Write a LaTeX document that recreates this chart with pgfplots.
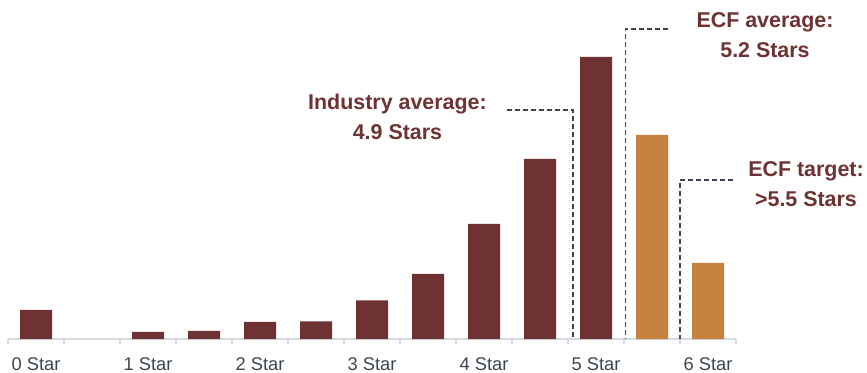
\documentclass[border=0pt]{standalone}
\usepackage{fontspec}
\setmainfont{Liberation Sans}
\usepackage{pgfplots}
\pgfplotsset{compat=1.18}
\definecolor{maroon}{HTML}{6F3232}
\definecolor{ochre}{HTML}{C8823F}
\definecolor{axisgray}{HTML}{D6DBE1}
\definecolor{labelgray}{HTML}{3E4550}
\definecolor{dashgray}{HTML}{3D4653}
\begin{document}
\begin{tikzpicture}
\path[use as bounding box] (-8bp,-34bp) rectangle (859bp,339bp);
\begin{axis}[
  at={(0,0)}, anchor=south west,
  scale only axis, width=728bp, height=339bp,
  xmin=-0.5, xmax=12.5, ymin=0, ymax=339,
  clip=false,
  axis x line=bottom, axis y line=none,
  axis line style={axisgray, line width=1.5bp, -},
  xtick={0,2,4,6,8,10,12},
  xticklabels={0 Star,1 Star,2 Star,3 Star,4 Star,5 Star,6 Star},
  major tick length=0pt,
  minor xtick={-0.5,0.5,...,12.5},
  minor tick length=5bp,
  xtick align=inside,
  minor tick style={axisgray, line width=1.2bp},
  xticklabel style={font=\fontsize{18.4}{22}\selectfont, text=labelgray, anchor=north, inner sep=0pt, yshift=-18.5bp},
  ybar, bar width=32bp,
]
\addplot[fill=maroon, draw=none, bar shift=0pt] coordinates {
 (0,29) (2,7) (3,8) (4,17) (5,17.5) (6,38.5) (7,65) (8,115) (9,180) (10,282)};
\addplot[fill=ochre, draw=none, bar shift=0pt] coordinates {
 (11,204) (12,76)};
\draw[dashgray, line width=1.2bp, dash pattern=on 5bp off 3bp]
  (axis cs:8.41,229) -- (axis cs:9.59,229) -- (axis cs:9.59,0);
\draw[dashgray, line width=1.2bp, dash pattern=on 5bp off 3bp]
  (axis cs:11.29,310) -- (axis cs:10.52,310) -- (axis cs:10.52,0);
\draw[dashgray, line width=1.2bp, dash pattern=on 5bp off 3bp]
  (axis cs:12.45,159) -- (axis cs:11.5,159) -- (axis cs:11.5,0);
\node[text=maroon, font=\fontsize{21.5}{30}\selectfont\bfseries, align=center, inner sep=0pt]
  at (axis cs:6.455,222) {Industry average:\\4.9 Stars};
\node[text=maroon, font=\fontsize{21.5}{30}\selectfont\bfseries, align=center, inner sep=0pt]
  at (axis cs:13.018,304) {ECF average:\\5.2 Stars};
\node[text=maroon, font=\fontsize{21.5}{30}\selectfont\bfseries, align=center, inner sep=0pt]
  at (axis cs:13.75,154.5) {ECF target:\\>5.5 Stars};
\end{axis}
\end{tikzpicture}
\end{document}
